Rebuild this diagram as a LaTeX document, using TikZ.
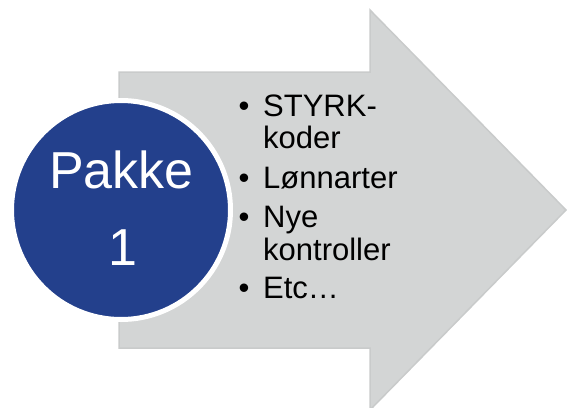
\documentclass[tikz,border=0pt]{standalone}
\usepackage{fontspec}
\setmainfont{Liberation Sans}
\definecolor{arrowfill}{HTML}{D3D5D5}
\definecolor{arrowline}{HTML}{C9CBCB}
\definecolor{circblue}{HTML}{23408C}
\tikzset{
  item/.style={anchor=base west, inner sep=0pt, font=\fontsize{31}{33}\selectfont, text=black},
  bul/.style={anchor=base, inner sep=0pt, font=\fontsize{31}{33}\selectfont, text=black},
  big/.style={anchor=base, inner sep=0pt, font=\fontsize{52}{60}\selectfont, text=white}
}
\begin{document}
\begin{tikzpicture}[x=1pt,y=-1pt]
\useasboundingbox (0,0) rectangle (567,407);
\draw[fill=arrowfill, draw=arrowline, line width=1.5pt, line join=miter]
  (119,72) -- (370,72) -- (370,10) -- (566,210) -- (370,410) -- (370,348) -- (119,348) -- cycle;
\node[circle, fill=circblue, draw=white, line width=5pt, minimum size=219pt, inner sep=0pt] (c) at (121,210) {};
\node[big] (p) at (121.5,188) {Pakke};
\node[big] (one) at (123,265) {1};
\node[bul] (b1) at (244,116) {•};
\node[item] (t1) at (263,116) {STYRK-};
\node[item] (t1b) at (263,148) {koder};
\node[bul] (b2) at (244,188) {•};
\node[item] (t2) at (263,188) {Lønnarter};
\node[bul] (b3) at (244,227) {•};
\node[item] (t3) at (263,227) {Nye};
\node[item] (t3b) at (263,260) {kontroller};
\node[bul] (b4) at (244,298) {•};
\node[item] (t4) at (263,298) {Etc…};
\end{tikzpicture}
\end{document}
